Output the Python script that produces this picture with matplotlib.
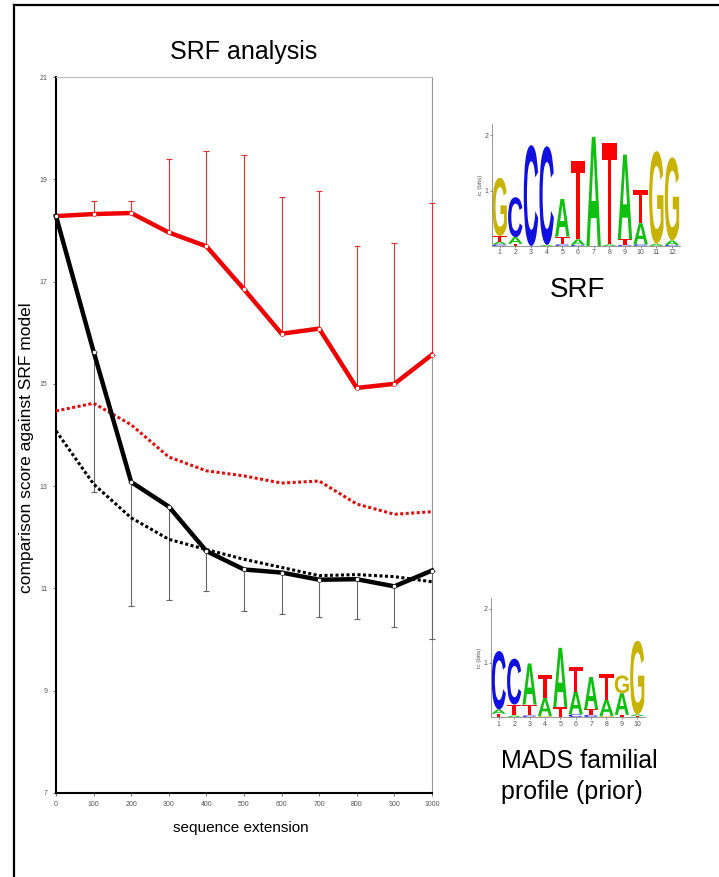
import numpy as np
import matplotlib
matplotlib.use("Agg")
import matplotlib.pyplot as plt
from matplotlib.textpath import TextPath
from matplotlib.patches import PathPatch
from matplotlib.font_manager import FontProperties
from matplotlib.transforms import Affine2D
from matplotlib.lines import Line2D

plt.rcParams['font.family'] = ['Liberation Sans', 'DejaVu Sans']

# sequence extension
ext = [0, 100, 200, 300, 400, 500, 600, 700, 800, 900, 1000]

# comparison scores
red_solid = [18.28, 18.32, 18.34, 17.96, 17.69, 16.85, 15.98, 16.08, 14.92, 15.0, 15.57]
red_upper = [18.28, 18.57, 18.57, 19.39, 19.55, 19.47, 18.65, 18.78, 17.7, 17.75, 18.53]
black_solid = [18.28, 15.63, 13.08, 12.6, 11.73, 11.37, 11.31, 11.17, 11.18, 11.04, 11.35]
black_lower = [18.28, 12.88, 10.65, 10.77, 10.94, 10.55, 10.49, 10.45, 10.41, 10.25, 10.02]
red_dotted = [14.47, 14.62, 14.2, 13.57, 13.3, 13.2, 13.06, 13.1, 12.65, 12.45, 12.5]
black_dotted = [14.08, 13.04, 12.38, 11.96, 11.76, 11.57, 11.41, 11.25, 11.27, 11.23, 11.13]

y_ticks = [7, 9, 11, 13, 15, 17, 19, 21]
x_ticks = [0, 100, 200, 300, 400, 500, 600, 700, 800, 900, 1000]

# logo columns, stacked bottom -> top as (letter, bits)
srf_logo = [
    [('C', 0.03), ('A', 0.05), ('T', 0.1), ('G', 1.05)],
    [('T', 0.04), ('A', 0.12), ('C', 0.72)],
    [('C', 1.82)],
    [('A', 0.02), ('C', 1.78)],
    [('C', 0.03), ('T', 0.14), ('A', 0.68)],
    [('C', 0.02), ('A', 0.1), ('T', 1.42)],
    [('A', 1.97)],
    [('A', 0.03), ('T', 1.82)],
    [('C', 0.02), ('T', 0.1), ('A', 1.53)],
    [('C', 0.03), ('A', 0.38), ('T', 0.6)],
    [('A', 0.04), ('G', 1.67)],
    [('C', 0.02), ('A', 0.08), ('G', 1.5)],
]
mads_logo = [
    [('T', 0.06), ('A', 0.08), ('C', 1.08)],
    [('A', 0.03), ('T', 0.2), ('C', 0.85)],
    [('C', 0.03), ('T', 0.2), ('A', 0.76)],
    [('G', 0.02), ('A', 0.33), ('T', 0.42)],
    [('T', 0.18), ('A', 1.1)],
    [('C', 0.05), ('A', 0.42), ('T', 0.46)],
    [('C', 0.04), ('T', 0.1), ('A', 0.6)],
    [('G', 0.02), ('A', 0.3), ('T', 0.48)],
    [('T', 0.04), ('A', 0.4), ('G', 0.33)],
    [('T', 0.02), ('A', 0.03), ('G', 1.36)],
]
base_colors = {'A': '#10c010', 'C': '#1010e0', 'G': '#c8b400', 'T': '#ff0000'}

fig = plt.figure(figsize=(7.19, 8.77), dpi=100)

ax = fig.add_axes([0.0779, 0.0958, 0.5229, 0.8164])
eb1 = ax.errorbar(ext, red_solid, yerr=[np.zeros(len(ext)), np.array(red_upper) - np.array(red_solid)],
                  fmt='none', ecolor='#e03030', elinewidth=0.8, capsize=2.5, capthick=0.8, zorder=2.7)
eb2 = ax.errorbar(ext, black_solid, yerr=[np.array(black_solid) - np.array(black_lower), np.zeros(len(ext))],
                  fmt='none', ecolor='#666666', elinewidth=0.8, capsize=2.5, capthick=0.8, zorder=2.7)
for eb in (eb1, eb2):
    for art in eb.lines[1] + eb.lines[2]:
        art.set_clip_on(False)
ax.plot(ext, red_dotted, color='#dd1010', lw=2.2, ls=(0, (1, 0.8)), zorder=3)
ax.plot(ext, black_dotted, color='black', lw=2.2, ls=(0, (1, 0.8)), zorder=3)
ax.plot(ext, red_solid, color='#ee0000', lw=3.2, marker='o', ms=3, mfc='white', mec='#ee0000', mew=0.4,
        zorder=4, clip_on=False)
ax.plot(ext, black_solid, color='black', lw=3.2, marker='o', ms=3, mfc='white', mec='black', mew=0.4,
        zorder=5, clip_on=False)

ax.set_xlim(0, 1000)
ax.set_ylim(7, 21)
ax.set_xticks(x_ticks)
ax.set_yticks(y_ticks)
ax.tick_params(labelsize=5, colors='#555555', length=2.5, width=0.6)
ax.spines['left'].set_linewidth(1.5)
ax.spines['bottom'].set_linewidth(1.5)
ax.spines['top'].set_color('#bbbbbb')
ax.spines['right'].set_color('#999999')
ax.spines['right'].set_linewidth(0.8)

fig.text(0.339, 0.941, 'SRF analysis', fontsize=18, ha='center', va='center')
fig.text(0.335, 0.056, 'sequence extension', fontsize=11, ha='center', va='center')
fig.text(0.0375, 0.49, 'comparison score against SRF model', fontsize=12.5, rotation=90,
         ha='center', va='center')


def draw_logo(rect, columns):
    lax = fig.add_axes(rect)
    fp = FontProperties(family='Liberation Sans', weight='bold')
    for i, col in enumerate(columns):
        bottom = 0
        for letter, h in col:
            tp = TextPath((0, 0), letter, size=1, prop=fp)
            bb = tp.get_extents()
            w = 0.92
            tr = Affine2D().translate(-bb.x0, -bb.y0).scale(w / bb.width, h / bb.height) \
                .translate(i + 1 - w / 2, bottom)
            lax.add_patch(PathPatch(tr.transform_path(tp), fc=base_colors[letter], ec='none'))
            bottom += h
    lax.set_xlim(0.5, len(columns) + 0.5)
    lax.set_ylim(0, 2.2)
    lax.set_xticks(range(1, len(columns) + 1))
    lax.set_yticks([1, 2])
    lax.tick_params(labelsize=5, colors='#555555', length=1.5, width=0.5, pad=1)
    lax.set_ylabel('ic (bits)', fontsize=4.5, color='#555555', labelpad=1)
    for s in ['top', 'right']:
        lax.spines[s].set_visible(False)
    lax.spines['left'].set_color('#888888')
    lax.spines['left'].set_linewidth(0.6)
    lax.spines['bottom'].set_color('#888888')
    lax.spines['bottom'].set_linewidth(0.6)
    lax.patch.set_alpha(0)
    return lax


draw_logo([0.684, 0.7195, 0.2615, 0.139], srf_logo)
draw_logo([0.683, 0.1824, 0.214, 0.1357], mads_logo)

fig.text(0.8025, 0.669, 'SRF', fontsize=20, ha='center', va='center')
fig.text(0.697, 0.146, 'MADS familial\nprofile (prior)', fontsize=18, ha='left', va='top',
         linespacing=1.35)

# frame lines on left and top
fig.add_artist(Line2D([0.0195, 0.0195], [0, 0.9943], color='black', lw=1.6))
fig.add_artist(Line2D([0.0195, 1.0], [0.9943, 0.9943], color='black', lw=1.6))

fig.savefig('out.png', dpi=100)
